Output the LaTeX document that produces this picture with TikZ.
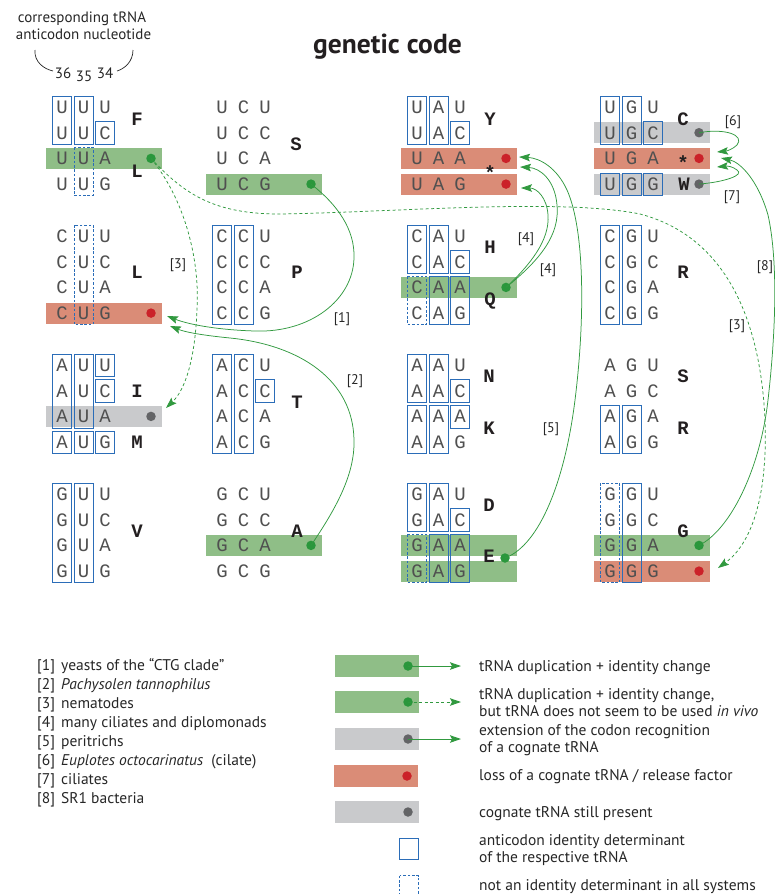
\documentclass[tikz,border=0pt]{standalone}
\usepackage{fontspec}
\setmainfont{PT Sans}
\newfontfamily\codefont{Liberation Mono}
\usetikzlibrary{arrows.meta}
\definecolor{bandgreen}{HTML}{8FBE87}
\definecolor{bandred}{HTML}{DA8C77}
\definecolor{bandgrey}{HTML}{C9CACC}
\definecolor{dotgreen}{HTML}{2A973C}
\definecolor{dotred}{HTML}{CB2229}
\definecolor{dotgrey}{HTML}{636466}
\definecolor{boxblue}{HTML}{2B6DB8}
\definecolor{arrgreen}{HTML}{31993F}
\definecolor{lettergrey}{HTML}{505050}
\definecolor{aablack}{HTML}{231F20}
\definecolor{txt}{HTML}{262626}
\newcommand\band[4]{\fill[#1] ({#2-16},{ry(#3,#4)-11.5}) rectangle ({#2+100},{ry(#3,#4)+9.5});}
\newcommand\ibx[6]{\draw[#1] ({#2+21.5*#3-9.5},{ry(#4,#5)-12}) rectangle ({#2+21.5*#3+9.5},{ry(#4,#6)+10.5});}
\newcommand\codons[5]{%
  \foreach \t [count=\i from 0] in {U,C,A,G}{
    \node[nuc] (#1a\i) at ({#2},{ry(#3,\i)+5.4}) {#4};
    \node[nuc] (#1b\i) at ({#2+21.5},{ry(#3,\i)+5.4}) {#5};
    \node[nuc] (#1c\i) at ({#2+43},{ry(#3,\i)+5.4}) {\t};
  }}
\begin{document}
\begin{tikzpicture}[x=1pt,y=-1pt,
  declare function={ry(\b,\r)=108+129*\b+25.7*\r;},
  nuc/.style={font=\codefont\fontsize{19}{19}\selectfont,text=lettergrey,inner sep=0pt,anchor=base},
  aa/.style={font=\codefont\bfseries\fontsize{19}{19}\selectfont,text=aablack,inner sep=0pt,anchor=base},
  sb/.style={draw=boxblue,line width=0.75pt},
  db/.style={draw=boxblue,line width=0.75pt,dash pattern=on 2.6pt off 1.8pt},
  gb/.style={fill=bandgreen},
  rb/.style={fill=bandred},
  yb/.style={fill=bandgrey},
  dotnode/.style={circle,inner sep=0pt,minimum size=9.5pt},
  arr/.style={draw=arrgreen,line width=0.75pt,-{Stealth[length=11pt,width=7.5pt,inset=2pt]}},
  darr/.style={arr,dash pattern=on 3pt off 2.5pt},
  lbl/.style={font=\fontsize{14}{14}\selectfont,text=txt,inner sep=0pt},
  legl/.style={font=\fontsize{15.5}{15.5}\selectfont,text=txt,inner sep=0pt,anchor=base west},
  legr/.style={font=\fontsize{15.5}{15.5}\selectfont,text=txt,inner sep=0pt,anchor=base west},
]
\useasboundingbox (0,0) rectangle (775,894);
% ---------- bands ----------
\band{gb}{62}{0}{2}
\band{rb}{62}{1}{3}
\band{yb}{62}{2}{2}
\band{gb}{222}{0}{3}
\band{gb}{222}{3}{2}
\band{rb}{417}{0}{2}
\band{rb}{417}{0}{3}
\band{gb}{417}{1}{2}
\band{gb}{417}{3}{2}
\band{gb}{417}{3}{3}
\band{yb}{610}{0}{1}
\band{rb}{610}{0}{2}
\band{yb}{610}{0}{3}
\band{gb}{610}{3}{2}
\band{rb}{610}{3}{3}
% ---------- identity boxes ----------
% column U
\ibx{sb}{62}{0}{0}{0}{1}\ibx{sb}{62}{1}{0}{0}{1}\ibx{sb}{62}{2}{0}{1}{1}\ibx{db}{62}{1}{0}{2}{3}
\ibx{db}{62}{1}{1}{0}{3}
\ibx{sb}{62}{0}{2}{0}{2}\ibx{sb}{62}{1}{2}{0}{2}\ibx{sb}{62}{2}{2}{0}{0}\ibx{sb}{62}{2}{2}{1}{1}
\ibx{sb}{62}{0}{2}{3}{3}\ibx{sb}{62}{1}{2}{3}{3}\ibx{sb}{62}{2}{2}{3}{3}
\ibx{sb}{62}{0}{3}{0}{3}\ibx{sb}{62}{1}{3}{0}{3}
% column C
\ibx{sb}{222}{0}{1}{0}{3}\ibx{sb}{222}{1}{1}{0}{3}
\ibx{sb}{222}{0}{2}{0}{3}\ibx{sb}{222}{1}{2}{0}{3}\ibx{sb}{222}{2}{2}{1}{1}
% column A
\ibx{sb}{417}{0}{0}{0}{1}\ibx{sb}{417}{1}{0}{0}{1}\ibx{sb}{417}{2}{0}{1}{1}
\ibx{sb}{417}{0}{1}{0}{1}\ibx{sb}{417}{1}{1}{0}{1}\ibx{sb}{417}{2}{1}{1}{1}
\ibx{db}{417}{0}{1}{2}{3}\ibx{sb}{417}{1}{1}{2}{3}\ibx{sb}{417}{2}{1}{2}{3}
\ibx{sb}{417}{0}{2}{0}{1}\ibx{sb}{417}{1}{2}{0}{1}\ibx{sb}{417}{2}{2}{1}{1}
\ibx{sb}{417}{0}{2}{2}{3}\ibx{sb}{417}{1}{2}{2}{3}\ibx{sb}{417}{2}{2}{2}{2}
\ibx{sb}{417}{0}{3}{0}{1}\ibx{sb}{417}{1}{3}{0}{1}\ibx{sb}{417}{2}{3}{1}{1}
\ibx{db}{417}{0}{3}{2}{3}\ibx{sb}{417}{1}{3}{2}{3}\ibx{sb}{417}{2}{3}{2}{3}
% column G
\ibx{sb}{610}{0}{0}{0}{1}\ibx{sb}{610}{1}{0}{0}{1}\ibx{sb}{610}{2}{0}{1}{1}
\ibx{sb}{610}{0}{0}{3}{3}\ibx{sb}{610}{1}{0}{3}{3}\ibx{sb}{610}{2}{0}{3}{3}
\ibx{sb}{610}{0}{1}{0}{3}\ibx{sb}{610}{1}{1}{0}{3}
\ibx{sb}{610}{0}{2}{2}{3}\ibx{sb}{610}{1}{2}{2}{3}
\ibx{db}{610}{0}{3}{0}{3}\ibx{sb}{610}{1}{3}{0}{3}
% ---------- codons ----------
\codons{UU}{62}{0}{U}{U}
\codons{CU}{62}{1}{C}{U}
\codons{AU}{62}{2}{A}{U}
\codons{GU}{62}{3}{G}{U}
\codons{UC}{222}{0}{U}{C}
\codons{CC}{222}{1}{C}{C}
\codons{AC}{222}{2}{A}{C}
\codons{GC}{222}{3}{G}{C}
\codons{UA}{417}{0}{U}{A}
\codons{CA}{417}{1}{C}{A}
\codons{AA}{417}{2}{A}{A}
\codons{GA}{417}{3}{G}{A}
\codons{UG}{610}{0}{U}{G}
\codons{CG}{610}{1}{C}{G}
\codons{AG}{610}{2}{A}{G}
\codons{GG}{610}{3}{G}{G}
% ---------- amino acids ----------
\node[aa] (aF) at (137,125.5) {F};
\node[aa] (aL1) at (137,177.5) {L};
\node[aa] (aL2) at (137,278.5) {L};
\node[aa] (aI) at (137,397.5) {I};
\node[aa] (aM) at (137,448.5) {M};
\node[aa] (aV) at (137,537.5) {V};
\node[aa] (aS1) at (296,150.5) {S};
\node[aa] (aP) at (297,278.5) {P};
\node[aa] (aT) at (297,408.5) {T};
\node[aa] (aA) at (297,537.5) {A};
\node[aa] (aY) at (490,125.5) {Y};
\node[aa] (aX1) at (490,179.5) {*};
\node[aa] (aH) at (490,253.5) {H};
\node[aa] (aQ) at (490,305.5) {Q};
\node[aa] (aN) at (489,382.5) {N};
\node[aa] (aK) at (489,434.5) {K};
\node[aa] (aD) at (489,511.5) {D};
\node[aa] (aE) at (489,562.5) {E};
\node[aa] (aC) at (683,125.5) {C};
\node[aa] (aX2) at (683,169) {*};
\node[aa] (aW) at (684,190.5) {W};
\node[aa] (aR1) at (683,278.5) {R};
\node[aa] (aS2) at (683,382.5) {S};
\node[aa] (aR2) at (683,434.5) {R};
\node[aa] (aG) at (683,537.5) {G};
% ---------- dots ----------
\node[dotnode,fill=dotgreen] (dL) at (151,158.4) {};
\node[dotnode,fill=dotred] (dCUG) at (151,313.1) {};
\node[dotnode,fill=dotgrey] (dAUA) at (151,416.4) {};
\node[dotnode,fill=dotgreen] (dUCG) at (311,184.1) {};
\node[dotnode,fill=dotgreen] (dGCA) at (311,545.4) {};
\node[dotnode,fill=dotred] (dUAA) at (506,158.4) {};
\node[dotnode,fill=dotred] (dUAG) at (506,184.1) {};
\node[dotnode,fill=dotgreen] (dQ) at (506,287.4) {};
\node[dotnode,fill=dotgreen] (dE) at (505,558) {};
\node[dotnode,fill=dotgrey] (dUGC) at (699,132.7) {};
\node[dotnode,fill=dotred] (dUGA) at (699,158.4) {};
\node[dotnode,fill=dotgrey] (dUGG) at (699,184.1) {};
\node[dotnode,fill=dotgreen] (dGGA) at (699,545.4) {};
\node[dotnode,fill=dotred] (dGGG) at (699,571.1) {};
% ---------- arrow targets ----------
\coordinate (t1) at (167,316);
\coordinate (t2) at (170,326);
\coordinate (t3a) at (166,408);
\coordinate (t3b) at (718,568);
\coordinate (t4a) at (520,167);
\coordinate (t4b) at (521,188);
\coordinate (t5) at (519,157);
\coordinate (t6) at (717,152);
\coordinate (t7) at (717,167);
\coordinate (t8) at (721,158);
% ---------- arrows ----------
\draw[arr] (dUCG.center) .. controls (338,205) and (355,230) .. (354,258) .. controls (353,300) and (310,333) .. (255,331) .. controls (220,330) and (190,325) .. (t1);
\draw[arr] (dGCA.center) .. controls (335,510) and (355,475) .. (354,440) .. controls (353,380) and (300,345) .. (230,338) .. controls (200,335) and (185,332) .. (t2);
\draw[darr] (dL.center) .. controls (185,200) and (200,260) .. (197,310) .. controls (195,360) and (185,390) .. (t3a);
\draw[darr] (dL.center) .. controls (185,195) and (215,214) .. (280,214) .. controls (400,212) and (560,198) .. (640,214) .. controls (720,235) and (760,310) .. (765,420) .. controls (768,500) and (750,545) .. (t3b);
\draw[arr] (dQ.center) .. controls (540,260) and (560,235) .. (557,205) .. controls (555,180) and (540,168) .. (t4a);
\draw[arr] (dQ.center) .. controls (530,265) and (550,240) .. (548,215) .. controls (547,198) and (537,188) .. (t4b);
\draw[arr] (dE.center) .. controls (540,545) and (565,480) .. (575,400) .. controls (585,320) and (585,230) .. (567,190) .. controls (557,168) and (540,158) .. (t5);
\draw[arr] (dUGC.center) .. controls (725,128) and (745,135) .. (737,145) .. controls (733,149) and (727,151) .. (t6);
\draw[arr] (dUGG.center) .. controls (725,182) and (745,175) .. (737,170) .. controls (732,166) and (727,166) .. (t7);
\draw[arr] (dGGA.center) .. controls (730,530) and (760,470) .. (768,400) .. controls (776,330) and (778,260) .. (768,215) .. controls (758,180) and (740,162) .. (t8);
% ---------- reference labels ----------
\node[lbl] (r1) at (342,319) {[1]};
\node[lbl] (r2) at (355,381) {[2]};
\node[lbl] (r3a) at (178,265) {[3]};
\node[lbl] (r3b) at (737,326) {[3]};
\node[lbl] (r4a) at (526,239) {[4]};
\node[lbl] (r4b) at (548,270) {[4]};
\node[lbl] (r5) at (551,429) {[5]};
\node[lbl] (r6) at (733,122) {[6]};
\node[lbl] (r7) at (732,197) {[7]};
\node[lbl] (r8) at (765,267) {[8]};
% ---------- header ----------
\node[font=\bfseries\fontsize{27.5}{27.5}\selectfont,text=aablack,inner sep=0pt,anchor=base] (title) at (387.5,53) {genetic code};
\node[font=\fontsize{15}{15}\selectfont,text=txt,inner sep=0pt,anchor=base] (hd1) at (82,22) {corresponding tRNA};
\node[font=\fontsize{15}{15}\selectfont,text=txt,inner sep=0pt,anchor=base] (hd2) at (83.5,39.5) {anticodon nucleotide};
\coordinate (bl1) at (35,50);
\coordinate (bl2) at (53,71);
\coordinate (br1) at (133,50);
\coordinate (br2) at (117,71);
\draw[txt,line width=0.7pt] (bl1) .. controls (34,62) and (44,69) .. (bl2);
\draw[txt,line width=0.7pt] (br1) .. controls (133,62) and (124,69) .. (br2);
\node[font=\fontsize{15}{15}\selectfont,text=txt,inner sep=0pt,anchor=base] (p36) at (63,78.5) {36};
\node[font=\fontsize{15}{15}\selectfont,text=txt,inner sep=0pt,anchor=base] (p35) at (84,81.5) {35};
\node[font=\fontsize{15}{15}\selectfont,text=txt,inner sep=0pt,anchor=base] (p34) at (105,78.5) {34};
% ---------- left legend ----------
\foreach \n/\t [count=\k from 0] in {1/{yeasts of the “CTG clade”},2/{\textit{Pachysolen tannophilus}},3/{nematodes},4/{many ciliates and diplomonads},5/{peritrichs},6/{\textit{Euplotes octocarinatus}\ \ (cilate)},7/{ciliates},8/{SR1 bacteria}}{
  \node[legl] (ln\n) at (37,{670+19.1*\k}) {[\n]};
  \node[legl] (lt\n) at (61,{670+19.1*\k}) {\t};
}
% ---------- right legend ----------
\fill[gb] (335,655) rectangle (419,677);
\node[dotnode,fill=dotgreen] (k1) at (408,666) {};
\coordinate (k1e) at (461,666);
\draw[arr,line width=1pt] (k1.center) -- (k1e);
\node[legr] (k1t) at (479,671.5) {tRNA duplication + identity change};
\fill[gb] (335,691) rectangle (419,713);
\node[dotnode,fill=dotgreen] (k2) at (408,702) {};
\coordinate (k2e) at (461,702);
\draw[darr,line width=1pt] (k2.center) -- (k2e);
\node[legr] (k2t) at (479,699.5) {tRNA duplication + identity change,};
\node[legr] (k2u) at (479,716) {but tRNA does not seem to be used \textit{in vivo}};
\fill[yb] (335,728) rectangle (419,750);
\node[dotnode,fill=dotgrey] (k3) at (408,739) {};
\coordinate (k3e) at (461,739);
\draw[arr,line width=1pt] (k3.center) -- (k3e);
\node[legr] (k3t) at (479,735.5) {extension of the codon recognition};
\node[legr] (k3u) at (479,752) {of a cognate tRNA};
\fill[rb] (334,765) rectangle (418,787);
\node[dotnode,fill=dotred] (k4) at (407,776) {};
\node[legr] (k4t) at (479,780.5) {loss of a cognate tRNA / release factor};
\fill[yb] (335,801) rectangle (419,823);
\node[dotnode,fill=dotgrey] (k5) at (408,812) {};
\node[legr] (k5t) at (479,817.5) {cognate tRNA still present};
\draw[sb] (399.5,838) rectangle (418.5,859);
\node[legr] (k6t) at (479,845.5) {anticodon identity determinant};
\node[legr] (k6u) at (479,862) {of the respective tRNA};
\draw[db] (399.5,875.5) rectangle (418.5,897);
\node[legr] (k7t) at (479,890.5) {not an identity determinant in all systems};
\end{tikzpicture}
\end{document}
